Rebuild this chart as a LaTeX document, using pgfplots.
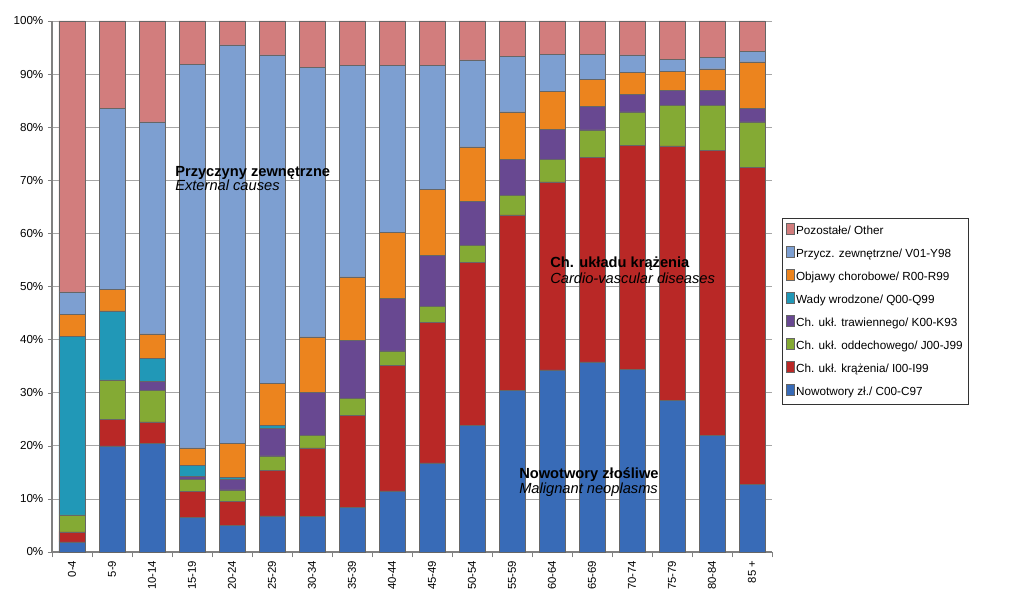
\documentclass[border=0pt]{standalone}
\usepackage{fontspec}
\setmainfont{Liberation Sans}
\usepackage{pgfplots}
\usepackage{pgfplotstable}
\pgfplotsset{compat=1.18,
  /pgfplots/ybar legend/.style={/pgfplots/legend image code/.code={\fill[##1,draw=none] (0pt,-2.3pt) rectangle (4.6pt,2.3pt);}}}

\definecolor{cNow}{RGB}{56,107,183}
\definecolor{cKrz}{RGB}{185,40,38}
\definecolor{cOdd}{RGB}{132,170,52}
\definecolor{cTraw}{RGB}{104,72,145}
\definecolor{cWady}{RGB}{33,152,183}
\definecolor{cObj}{RGB}{236,132,30}
\definecolor{cExt}{RGB}{125,159,209}
\definecolor{cOth}{RGB}{210,125,125}

\pgfplotstableread{
x now krz odd traw wady obj ext oth
0  1.9  1.9 3.2 0    33.6 4.2  4.2  51.0
1  20.0 5.0 7.4 0    13.0 4.1  34.0 16.5
2  20.5 4.0 6.0 1.7  4.3  4.6  39.9 19.0
3  6.5  4.9 2.3 0.6  2.0  3.3  72.2 8.2
4  5.0  4.6 2.1 2.0  0.3  6.5  75.0 4.5
5  6.8  8.6 2.7 5.2  0.5  8.0  61.8 6.4
6  6.7  12.9 2.4 8.0 0    10.5 50.7 8.8
7  8.4  17.4 3.1 10.9 0   12.0 39.9 8.3
8  11.5 23.7 2.7 9.9 0    12.4 31.4 8.4
9  16.8 26.4 3.1 9.5 0    12.5 23.3 8.4
10 23.9 30.7 3.2 8.2 0    10.3 16.4 7.3
11 30.5 33.0 3.7 6.8 0    8.9  10.5 6.6
12 34.3 35.4 4.3 5.6 0    7.2  6.9  6.3
13 35.8 38.5 5.2 4.4 0    5.1  4.7  6.3
14 34.4 42.2 6.3 3.3 0    4.1  3.3  6.4
15 28.6 47.9 7.6 2.8 0    3.6  2.3  7.2
16 22.0 53.7 8.4 2.8 0    4.1  2.1  6.9
17 12.7 59.7 8.6 2.6 0    8.7  2.0  5.7
}\data

\begin{document}
\begin{tikzpicture}
\useasboundingbox (0,0) rectangle (768pt,447.75pt);
\begin{axis}[
  at={(39pt,33.75pt)}, anchor=south west,
  scale only axis, width=540pt, height=398.25pt,
  ybar stacked, bar width=19.5pt,
  xmin=-0.5, xmax=17.5, ymin=0, ymax=100,
  xtick={0,...,17},
  xticklabels={0-4,5-9,10-14,15-19,20-24,25-29,30-34,35-39,40-44,45-49,50-54,55-59,60-64,65-69,70-74,75-79,80-84,85 +},
  minor xtick={-0.5,0.5,...,17.5},
  every major x tick/.append style={draw=none},
  every minor x tick/.append style={draw=gray},
  minor tick length=4pt,
  x tick label style={rotate=90, anchor=east, font=\fontsize{8.5}{10}\selectfont},
  ytick={0,10,...,100},
  yticklabel={\pgfmathprintnumber{\tick}\%},
  y tick label style={font=\fontsize{8.7}{10}\selectfont},
  /pgf/number format/assume math mode=true,
  tick align=outside, major tick length=3pt,
  ytick style={gray},
  axis x line*=bottom, axis y line*=left,
  axis line style={gray, line width=0.8pt},
  ymajorgrids, grid style={gray!70, line width=0.6pt},
  every axis plot/.append style={draw=black!60, line width=0.35pt},
  reverse legend,
  legend style={at={(1.0139,0.629)}, anchor=north west, draw=black!80,
    font=\fontsize{8.8}{10}\selectfont, inner xsep=3pt, inner ysep=3.8pt,
    row sep=6pt, nodes={inner sep=1pt, text height=6.2pt, text depth=1.9pt},
    cells={anchor=west}},
]
\addplot[fill=cNow] table[x=x,y=now]{\data};
\addlegendentry{Nowotwory zł./ C00-C97}
\addplot[fill=cKrz] table[x=x,y=krz]{\data};
\addlegendentry{Ch. ukł. krążenia/ I00-I99}
\addplot[fill=cOdd] table[x=x,y=odd]{\data};
\addlegendentry{Ch. ukł. oddechowego/ J00-J99}
\addplot[fill=cTraw] table[x=x,y=traw]{\data};
\addlegendentry{Ch. ukł. trawiennego/ K00-K93}
\addplot[fill=cWady] table[x=x,y=wady]{\data};
\addlegendentry{Wady wrodzone/ Q00-Q99}
\addplot[fill=cObj] table[x=x,y=obj]{\data};
\addlegendentry{Objawy chorobowe/ R00-R99}
\addplot[fill=cExt] table[x=x,y=ext]{\data};
\addlegendentry{Przycz. zewnętrzne/ V01-Y98}
\addplot[fill=cOth] table[x=x,y=oth]{\data};
\addlegendentry{Pozostałe/ Other}

\coordinate (a1) at (axis cs:2.575,70.8);
\coordinate (a2) at (axis cs:2.575,68.0);
\coordinate (b1) at (axis cs:11.95,53.6);
\coordinate (b2) at (axis cs:11.95,50.6);
\coordinate (c1) at (axis cs:11.175,13.8);
\coordinate (c2) at (axis cs:11.175,11.0);
\end{axis}
\node[anchor=base west, inner sep=0pt, font=\bfseries\fontsize{11}{12}\selectfont] at (a1) {Przyczyny zewnętrzne};
\node[anchor=base west, inner sep=0pt, font=\itshape\fontsize{11}{12}\selectfont] at (a2) {External causes};
\node[anchor=base west, inner sep=0pt, font=\bfseries\fontsize{11}{12}\selectfont] at (b1) {Ch. układu krążenia};
\node[anchor=base west, inner sep=0pt, font=\itshape\fontsize{11}{12}\selectfont] at (b2) {Cardio-vascular diseases};
\node[anchor=base west, inner sep=0pt, font=\bfseries\fontsize{11}{12}\selectfont] at (c1) {Nowotwory złośliwe};
\node[anchor=base west, inner sep=0pt, font=\itshape\fontsize{11}{12}\selectfont] at (c2) {Malignant neoplasms};
\end{tikzpicture}
\end{document}
